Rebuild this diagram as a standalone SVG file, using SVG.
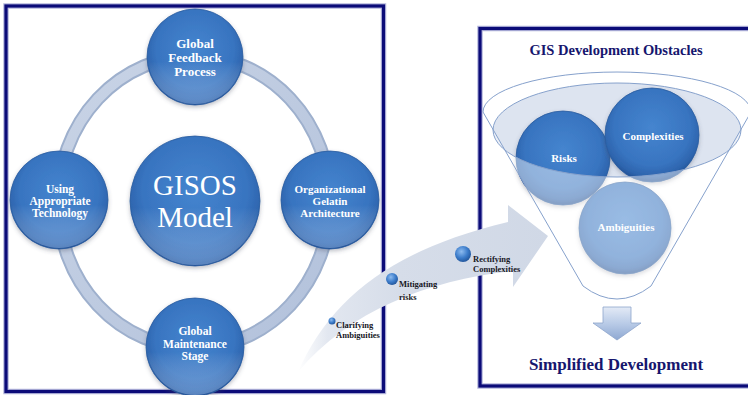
<svg xmlns="http://www.w3.org/2000/svg" width="748" height="395" viewBox="0 0 748 395">
  <style>
    .frame-halo { fill: none; stroke: #b4b6dc; stroke-width: 5.5; }
    .frame { fill: none; stroke: #0b0b78; stroke-width: 3.2; }
    .orb { fill: url(#orbFill); stroke: #2a5d9f; stroke-width: 0.8; filter: url(#softShadow); }
    .orb-glow { fill: url(#orbGlow); }
    .node-label { font-family: "Liberation Serif", "Times New Roman", serif; font-weight: bold; fill: #ffffff; text-anchor: middle; }
    .core-label { font-family: "Liberation Serif", "Times New Roman", serif; fill: #ffffff; text-anchor: middle; font-size: 29px; }
    .step-label { font-family: "Liberation Serif", "Times New Roman", serif; font-weight: bold; fill: #18181f; font-size: 8.5px; }
    .bead { fill: url(#beadFill); }
    .heading { font-family: "Liberation Serif", "Times New Roman", serif; font-weight: bold; fill: #16166e; text-anchor: middle; }
    .funnel-line { fill: none; stroke: #86a1cc; stroke-width: 1; }
  </style>
  <defs>
    <radialGradient id="orbFill" cx="50%" cy="42%" r="58%">
      <stop offset="0" stop-color="#4585cf"/>
      <stop offset="0.7" stop-color="#3874c0"/>
      <stop offset="0.9" stop-color="#2d64ad"/>
      <stop offset="1" stop-color="#234f92"/>
    </radialGradient>
    <linearGradient id="orbGlow" x1="0" y1="0" x2="0" y2="1">
      <stop offset="0.55" stop-color="#ffffff" stop-opacity="0"/>
      <stop offset="1" stop-color="#9cc0ee" stop-opacity="0.45"/>
    </linearGradient>
    <radialGradient id="beadFill" cx="40%" cy="35%" r="65%">
      <stop offset="0" stop-color="#8dbbef"/>
      <stop offset="0.6" stop-color="#3d7dcb"/>
      <stop offset="1" stop-color="#24599f"/>
    </radialGradient>
    <linearGradient id="sweepFill" x1="298" y1="0" x2="548" y2="0" gradientUnits="userSpaceOnUse">
      <stop offset="0" stop-color="#ffffff"/>
      <stop offset="0.12" stop-color="#e2e7f0"/>
      <stop offset="0.4" stop-color="#d6dde9"/>
      <stop offset="1" stop-color="#d0d8e6"/>
    </linearGradient>
    <linearGradient id="dropFill" x1="0" y1="0" x2="0" y2="1">
      <stop offset="0" stop-color="#e3eaf6"/>
      <stop offset="0.5" stop-color="#b9cbe7"/>
      <stop offset="1" stop-color="#8ea8d2"/>
    </linearGradient>
    <linearGradient id="ringFill" x1="0" y1="0" x2="1" y2="1">
      <stop offset="0" stop-color="#c9d4e6"/>
      <stop offset="1" stop-color="#b2c1db"/>
    </linearGradient>
    <filter id="softShadow" x="-20%" y="-20%" width="140%" height="150%">
      <feDropShadow dx="0" dy="2" stdDeviation="2" flood-color="#404860" flood-opacity="0.35"/>
    </filter>
  </defs>

  <!-- panel frames -->
  <g id="frames">
    <rect class="frame-halo" x="6" y="6" width="377.5" height="385.5"/>
    <rect class="frame" x="6" y="6" width="377.5" height="385.5"/>
    <rect class="frame-halo" x="480" y="28.5" width="275" height="357.5"/>
    <rect class="frame" x="480" y="28.5" width="275" height="357.5"/>
  </g>

  <!-- cycle ring behind the model nodes -->
  <g id="cycle-ring">
    <ellipse cx="194" cy="202" rx="136" ry="146" fill="none" stroke="#9eb0cd" stroke-width="14"/>
    <ellipse cx="194" cy="202" rx="136" ry="146" fill="none" stroke="url(#ringFill)" stroke-width="10"/>
  </g>

  <g id="node-feedback">
    <circle class="orb" cx="195" cy="57" r="48"/>
    <circle class="orb-glow" cx="195" cy="57" r="47"/>
    <text class="node-label" font-size="13" x="195" y="48">Global</text>
    <text class="node-label" font-size="13" x="195" y="62">Feedback</text>
    <text class="node-label" font-size="13" x="195" y="76">Process</text>
  </g>

  <g id="node-technology">
    <circle class="orb" cx="59" cy="200" r="49"/>
    <circle class="orb-glow" cx="59" cy="200" r="48"/>
    <text class="node-label" font-size="11.5" x="60" y="193">Using</text>
    <text class="node-label" font-size="11.5" x="60" y="205">Appropriate</text>
    <text class="node-label" font-size="11.5" x="60" y="217">Technology</text>
  </g>

  <g id="node-architecture">
    <circle class="orb" cx="330" cy="200" r="49"/>
    <circle class="orb-glow" cx="330" cy="200" r="48"/>
    <text class="node-label" font-size="11" x="330" y="193">Organizational</text>
    <text class="node-label" font-size="11" x="330" y="205">Gelatin</text>
    <text class="node-label" font-size="11" x="330" y="217">Architecture</text>
  </g>

  <g id="node-maintenance">
    <circle class="orb" cx="195" cy="347" r="49"/>
    <circle class="orb-glow" cx="195" cy="347" r="48"/>
    <text class="node-label" font-size="11.5" x="195" y="335">Global</text>
    <text class="node-label" font-size="11.5" x="195" y="348">Maintenance</text>
    <text class="node-label" font-size="11.5" x="195" y="360">Stage</text>
  </g>

  <g id="node-gisos">
    <circle class="orb" cx="195" cy="201" r="65"/>
    <circle class="orb-glow" cx="195" cy="201" r="64"/>
    <text class="core-label" x="195" y="195">GISOS</text>
    <text class="core-label" x="195" y="227">Model</text>
  </g>

  <!-- funnel of obstacles -->
  <g id="funnel">
    <ellipse cx="617" cy="130" rx="124" ry="47" fill="#dde4f0"/>
    <g id="node-risks">
      <circle class="orb" cx="563" cy="158" r="47"/>
    </g>
    <g id="node-complexities">
      <circle class="orb" cx="652" cy="135" r="47"/>
    </g>
    <g id="node-ambiguities">
      <circle class="orb" cx="625" cy="228" r="46"/>
    </g>
    <!-- translucent cone body, open where the rim ellipse sits -->
    <path fill="#ffffff" fill-opacity="0.45" fill-rule="evenodd"
          d="M483,112 A134,40 0 0 1 751,112 L651,286 Q617,312 583,286 Z
             M493,130 A124,47 0 1 0 741,130 A124,47 0 1 0 493,130 Z"/>
    <path class="funnel-line" d="M483,112 A134,40 0 0 1 751,112 L651,286 Q617,312 583,286 Z"/>
    <ellipse class="funnel-line" cx="617" cy="130" rx="124" ry="47" stroke="#7a96c4"/>
    <text class="node-label" font-size="11" x="564" y="162">Risks</text>
    <text class="node-label" font-size="11" x="653" y="140">Complexities</text>
    <text class="node-label" font-size="11" x="626" y="231" fill="#f2f5fb">Ambiguities</text>
  </g>

  <text class="heading" font-size="14.5" x="616" y="55">GIS Development Obstacles</text>

  <g id="connectors">
    <!-- sweeping arrow carrying the mitigation steps -->
    <path id="sweep-arrow" fill="url(#sweepFill)"
          d="M298,372 C330,300 390,250 508,222 L508,205 L548,236 L513,287 L513,271 C430,280 350,310 298,372 Z"/>
    <!-- downward arrow from the funnel -->
    <path id="outflow-arrow" fill="url(#dropFill)" stroke="#8ea5cc" stroke-width="0.8"
          d="M603,307 H631 V323 H641 L617,340 L593,323 H603 Z"/>
  </g>

  <g id="step-clarifying">
    <circle class="bead" cx="332" cy="321" r="3.5"/>
    <text class="step-label" x="336" y="328">Clarifying</text>
    <text class="step-label" x="336" y="338">Ambiguities</text>
  </g>
  <g id="step-mitigating">
    <circle class="bead" cx="392" cy="279" r="6"/>
    <text class="step-label" x="399" y="287">Mitigating</text>
    <text class="step-label" x="399" y="300">risks</text>
  </g>
  <g id="step-rectifying">
    <circle class="bead" cx="463" cy="254" r="8"/>
    <text class="step-label" x="473" y="262">Rectifying</text>
    <text class="step-label" x="473" y="272">Complexities</text>
  </g>

  <text class="heading" font-size="17" x="616" y="370">Simplified Development</text>
</svg>
